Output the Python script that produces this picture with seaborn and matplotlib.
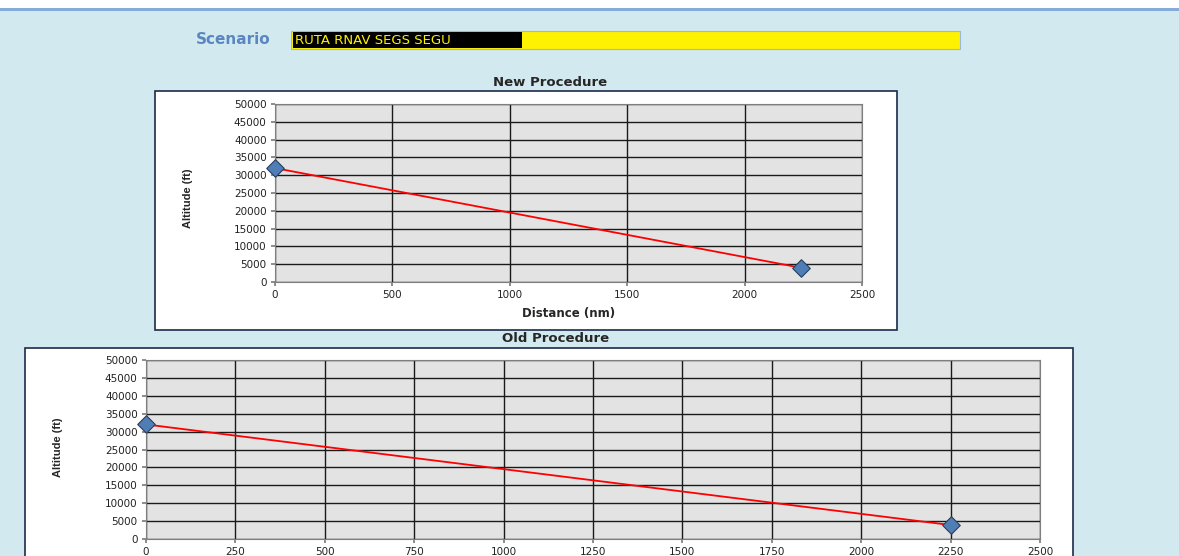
import matplotlib
matplotlib.use("Agg")
import matplotlib.pyplot as plt
import seaborn as sns
import pandas as pd
from matplotlib.patches import Rectangle

# data
scenario_name = "RUTA RNAV SEGS SEGU"
new_distance = [0, 2240]
new_altitude = [32000, 4000]
old_distance = [0, 2250]
old_altitude = [32000, 3900]
y_ticks = list(range(0, 50001, 5000))
new_x_ticks = list(range(0, 2501, 500))
old_x_ticks = list(range(0, 2501, 250))

W, H = 1179, 556
BG = "#D2E9EF"
PLOT_BG = "#E3E3E3"

sns.set_theme(style="white")
plt.rcParams["font.family"] = ["DejaVu Sans"]

fig = plt.figure(figsize=(W / 100, H / 100), dpi=100)
fig.patch.set_facecolor(BG)


def fig_rect(x0, y0, x1, y1):
    # pixel box (top-left origin) -> figure fraction
    return [x0 / W, 1 - y1 / H, (x1 - x0) / W, (y1 - y0) / H]


def add_box(x0, y0, x1, y1, fc, ec, lw=1.0, z=-1):
    l, b, w, h = fig_rect(x0, y0, x1, y1)
    fig.patches.append(Rectangle((l, b), w, h, transform=fig.transFigure,
                                 facecolor=fc, edgecolor=ec, linewidth=lw, zorder=z))


# top band of the page
add_box(0, 0, W, 8, "white", "none")
add_box(0, 8, W, 11, "#86ABDB", "none")

# scenario field
fig.text(233 / W, 1 - 40 / H, "Scenario", color="#5B87C0", fontsize=11,
         fontweight="bold", ha="center", va="center")
add_box(291, 31, 960, 49, "#FFF200", "#9DB9D8", lw=0.8, z=1)
add_box(293, 32, 522, 48, "black", "none", z=2)
fig.text(295 / W, 1 - 40 / H, scenario_name, color="#FFF200", fontsize=9.5,
         ha="left", va="center", zorder=3)

# chart frames
add_box(155, 91, 897, 330, "white", "#1F2A4A", lw=1.2)
add_box(25, 348, 1073, 580, "white", "#1F2A4A", lw=1.2)


def draw_chart(rect, dist, alt, xticks, title, title_xy, xlabel, ylab_xy):
    ax = fig.add_axes(fig_rect(*rect))
    ax.set_zorder(2)
    ax.set_facecolor(PLOT_BG)
    df = pd.DataFrame({"Distance": dist, "Altitude": alt})
    sns.lineplot(data=df, x="Distance", y="Altitude", ax=ax, color="red",
                 linewidth=1.3, zorder=3)
    sns.scatterplot(data=df, x="Distance", y="Altitude", ax=ax, marker="D",
                    s=80, color="#4F7DB5", edgecolor="#2B3E5C", linewidth=0.8,
                    zorder=4, clip_on=False)
    ax.set_xlim(xticks[0], xticks[-1])
    ax.set_ylim(0, 50000)
    ax.set_xticks(xticks)
    ax.set_yticks(y_ticks)
    ax.grid(True, color="#1A1A1A", linewidth=1.0)
    ax.set_axisbelow(True)
    for s in ax.spines.values():
        s.set_color("#7F7F7F")
        s.set_linewidth(0.8)
    ax.tick_params(axis="both", which="both", labelsize=7.5, length=3,
                   color="#7F7F7F", direction="out", bottom=True, left=True,
                   pad=3)
    for t in ax.get_xticklabels() + ax.get_yticklabels():
        t.set_color("#222222")
    ax.set_xlabel(xlabel, fontsize=8.5, fontweight="bold", labelpad=5)
    ax.set_ylabel("")
    fig.text(ylab_xy[0] / W, 1 - ylab_xy[1] / H, "Altitude (ft)",
             rotation=90, fontsize=8, fontweight="bold",
             family=["Liberation Sans", "DejaVu Sans"],
             ha="center", va="center", zorder=3)
    fig.text(title_xy[0] / W, 1 - title_xy[1] / H, title, fontsize=9.5,
             fontweight="bold", ha="center", va="center", zorder=3)
    return ax


draw_chart((275, 104, 862, 282), new_distance, new_altitude, new_x_ticks,
           "New Procedure", (550, 83), "Distance (nm)", (188, 198))
draw_chart((146, 360, 1040, 539), old_distance, old_altitude, old_x_ticks,
           "Old Procedure", (556, 339), "", (58, 447))

fig.savefig("out.png", dpi=100, facecolor=fig.get_facecolor())
